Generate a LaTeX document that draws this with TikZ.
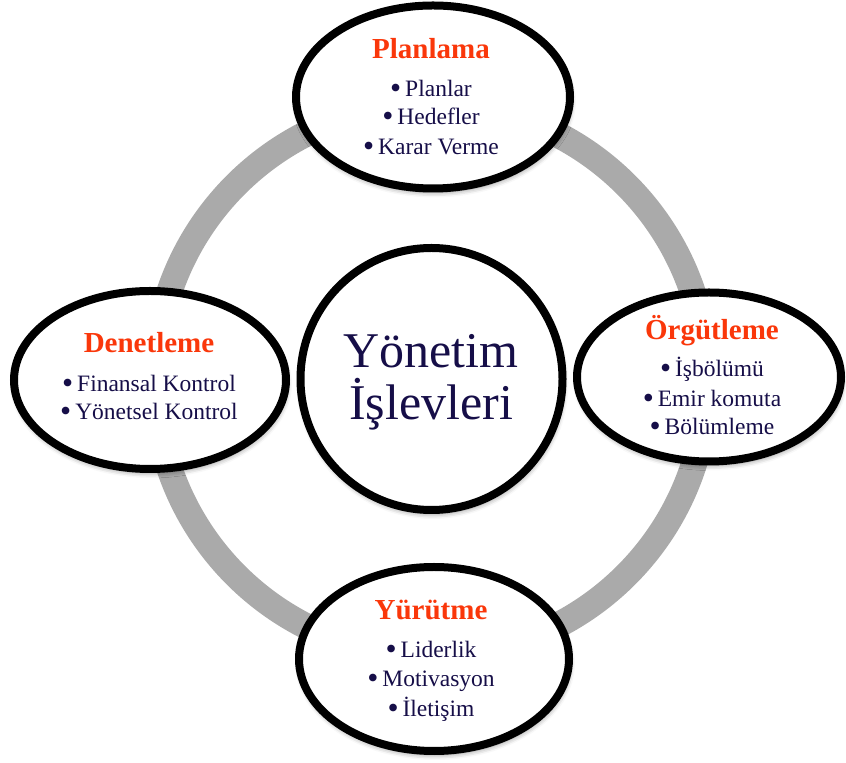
\documentclass[tikz,border=0pt]{standalone}
\usepackage{graphicx}
\usepackage{fontspec}
\setmainfont{Liberation Serif}
\usetikzlibrary{shapes.geometric,shadows.blur}
\definecolor{titlered}{RGB}{250,55,10}
\definecolor{itemnavy}{RGB}{22,14,72}
\definecolor{ringgray}{RGB}{170,170,170}
% list bullet, a little heavier than the plain glyph
\newcommand\bulletmark{\raisebox{-1.6pt}{\scalebox{1.35}{•}}\,}

\begin{document}
\begin{tikzpicture}[x=1pt,y=1pt,
  bubble/.style={draw=black, line width=8pt, fill=white, ellipse, inner sep=0pt,
    blur shadow={shadow xshift=1pt, shadow yshift=-4pt, shadow blur radius=5pt, shadow opacity=45}},
  heading/.style={anchor=base, text=titlered, font=\fontsize{29}{34}\selectfont\bfseries},
  item/.style={anchor=base, text=itemnavy, font=\fontsize{23.5}{26}\selectfont},
  hubtext/.style={anchor=base, text=itemnavy, font=\fontsize{50}{52}\selectfont}
]
\useasboundingbox (0,0) rectangle (846,763);

% grey cycle ring behind everything
\node (ring) [circle, draw=ringgray, line width=26pt, minimum size=552pt, inner sep=0pt] at (431,383) {};

% central hub
\node (hub) [bubble, circle, minimum size=262pt] at (431.5,384) {};
\node (hub1) [hubtext] at (431,395) {Yönetim};
\node (hub2) [hubtext] at (431,343) {İşlevleri};

% Planlama (top)
\node (plan) [bubble, minimum width=274pt, minimum height=183pt] at (433,666) {};
\node (planT) [heading] at (431,704) {Planlama};
\node (plan1) [item] at (431,666) {\bulletmark Planlar};
\node (plan2) [item] at (431,638) {\bulletmark Hedefler};
\node (plan3) [item] at (431,608) {\bulletmark Karar Verme};

% Örgütleme (right)
\node (org) [bubble, minimum width=264pt, minimum height=169pt] at (709,386) {};
\node (orgT) [heading] at (712,423) {Örgütleme};
\node (org1) [item] at (712,386) {\bulletmark İşbölümü};
\node (org2) [item] at (712,356) {\bulletmark Emir komuta};
\node (org3) [item] at (712,328) {\bulletmark Bölümleme};

% Denetleme (left)
\node (den) [bubble, minimum width=272pt, minimum height=178pt] at (150,383) {};
\node (denT) [heading] at (149,410) {Denetleme};
\node (den1) [item] at (149,371) {\bulletmark Finansal Kontrol};
\node (den2) [item] at (149,343) {\bulletmark Yönetsel Kontrol};

% Yürütme (bottom)
\node (yur) [bubble, minimum width=270pt, minimum height=184pt] at (434,104) {};
\node (yurT) [heading] at (431,143) {Yürütme};
\node (yur1) [item] at (431,105) {\bulletmark Liderlik};
\node (yur2) [item] at (431,76) {\bulletmark Motivasyon};
\node (yur3) [item] at (431,46) {\bulletmark İletişim};
\end{tikzpicture}
\end{document}
